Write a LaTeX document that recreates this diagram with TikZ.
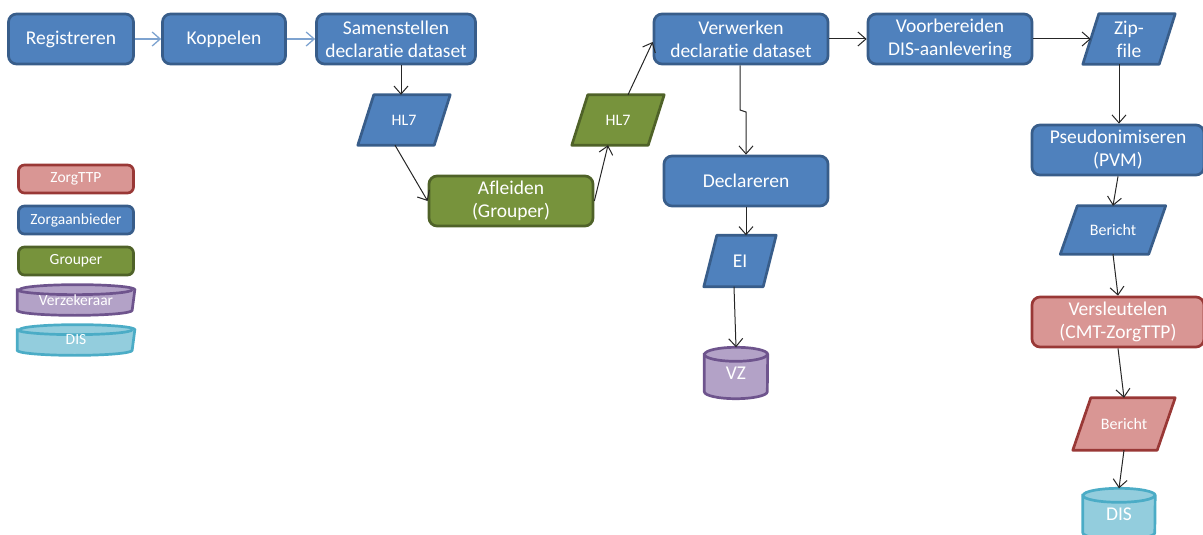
\documentclass[tikz,border=0pt]{standalone}
\usepackage{fontspec}
\setmainfont{Carlito}[Ligatures=NoCommon]
\usetikzlibrary{arrows.meta,calc,backgrounds}

\definecolor{zaFill}{HTML}{4F81BD}
\definecolor{zaLine}{HTML}{385D8A}
\definecolor{grFill}{HTML}{77933C}
\definecolor{grLine}{HTML}{4F6228}
\definecolor{ttpFill}{HTML}{D99694}
\definecolor{ttpLine}{HTML}{993836}
\definecolor{vzFill}{HTML}{B3A2C7}
\definecolor{vzLine}{HTML}{6E548D}
\definecolor{disFill}{HTML}{93CDDD}
\definecolor{disLine}{HTML}{4BACC6}
\definecolor{flowBlue}{HTML}{7EA3D0}

% parallelogram drawn behind a text node: node name, half slant, style
\newcommand\drawpara[3]{%
  \path[#3] ($(#1.south west)+(-#2pt,0)$) -- ($(#1.south east)+(-#2pt,0)$)
    -- ($(#1.north east)+(#2pt,0)$) -- ($(#1.north west)+(#2pt,0)$) -- cycle;}
% cylinder drawn behind a text node: node name, x radius, y radius, style
\newcommand\drawcyl[4]{%
  \path[#4] ($(#1.north west)+(0,-#3pt)$) -- ($(#1.south west)+(0,#3pt)$)
    arc[start angle=180,end angle=360,x radius=#2pt,y radius=#3pt]
    -- ($(#1.north east)+(0,-#3pt)$)
    arc[start angle=0,end angle=180,x radius=#2pt,y radius=#3pt] -- cycle;
  \path[#4,fill=none] ($(#1.north west)+(0,-#3pt)$)
    arc[start angle=180,end angle=360,x radius=#2pt,y radius=#3pt];}

\tikzset{
  proc/.style={rectangle, rounded corners=8pt, draw, line width=2.7pt,
    minimum height=50pt, text=white, align=center, inner sep=2pt,
    font=\fontsize{19.5}{23}\selectfont},
  za/.style={proc, fill=zaFill, draw=zaLine},
  gr/.style={proc, fill=grFill, draw=grLine},
  ttp/.style={proc, fill=ttpFill, draw=ttpLine},
  dataholder/.style={rectangle, inner sep=0pt, text=white, align=center},
  smalltext/.style={font=\fontsize{16}{18}\selectfont},
  bigtext/.style={font=\fontsize{19.5}{23}\selectfont},
  zaShape/.style={fill=zaFill, draw=zaLine, line width=2.7pt, line join=round},
  grShape/.style={fill=grFill, draw=grLine, line width=2.7pt, line join=round},
  ttpShape/.style={fill=ttpFill, draw=ttpLine, line width=2.7pt, line join=round},
  vzShape/.style={fill=vzFill, draw=vzLine, line width=2.7pt},
  disShape/.style={fill=disFill, draw=disLine, line width=2.7pt},
  legend/.style={rectangle, rounded corners=6pt, line width=2.7pt,
    minimum width=115pt, minimum height=28pt, text=white, inner sep=0pt,
    font=\fontsize{15.5}{17}\selectfont},
  arr/.style={draw=black!85, line width=1pt,
    -{Straight Barb[length=8pt,width=14pt,line width=1pt]}},
  lightarr/.style={draw=flowBlue, line width=1.3pt,
    -{Straight Barb[length=8pt,width=14pt,line width=1.3pt]}},
}

\begin{document}
\begin{tikzpicture}[x=1pt,y=1pt]
\clip (0,0) rectangle (1203,-535);

% process steps
\node[za, minimum width=125pt] (reg)  at (71,-39)  {Registreren};
\node[za, minimum width=123pt] (kop)  at (224,-39) {Koppelen};
\node[za, minimum width=159pt] (sam)  at (396,-39) {Samenstellen\\declaratie dataset};
\node[gr, minimum width=164pt] (afl)  at (511,-201) {Afleiden\\(Grouper)};
\node[za, minimum width=174pt] (verw) at (741,-39) {Verwerken\\declaratie dataset};
\node[za, minimum width=164pt] (voor) at (950,-39) {Voorbereiden\\DIS-aanlevering};
\node[za, minimum width=164pt] (decl) at (746,-181) {Declareren};
\node[za, minimum width=172pt] (pseu) at (1118,-150) {Pseudonimiseren\\(PVM)};
\node[ttp, minimum width=172pt] (vers) at (1118,-322) {Versleutelen\\(CMT-ZorgTTP)};

% data items (parallelograms)
\node[dataholder, smalltext, minimum width=76pt, minimum height=50pt] (hla) at (404,-120) {HL7};
\node[dataholder, smalltext, minimum width=76pt, minimum height=50pt] (hlb) at (618,-120) {HL7};
\node[dataholder, bigtext, minimum width=76pt, minimum height=50pt] (zip) at (1129,-39) {Zip-\\file};
\node[dataholder, smalltext, minimum width=88pt, minimum height=48pt] (bera) at (1113,-230) {Bericht};
\node[dataholder, smalltext, minimum width=84pt, minimum height=52pt] (berb) at (1124,-424) {Bericht};
\node[dataholder, bigtext, minimum width=59pt, minimum height=51pt] (ei) at (740,-261) {EI};

% data stores (cylinders)
\node[dataholder, bigtext, minimum width=63pt, minimum height=51pt] (vz) at (736,-373) {\raisebox{-5pt}{VZ}};
\node[dataholder, bigtext, minimum width=72pt, minimum height=51pt] (dis) at (1119,-514) {\raisebox{-5pt}{DIS}};

% legend
\node[legend, fill=ttpFill, draw=ttpLine] (lttp) at (76,-179) {ZorgTTP};
\node[legend, fill=zaFill, draw=zaLine] (lza) at (76,-220) {Zorgaanbieder};
\node[legend, fill=grFill, draw=grLine] (lgr) at (76,-261) {Grouper};
\node[legend] (lvz) at (76,-300) {\raisebox{-3pt}{Verzekeraar}};
\node[legend] (ldis) at (76,-340) {\raisebox{-3pt}{DIS}};

\begin{scope}[on background layer]
  \drawpara{hla}{8}{zaShape}
  \drawpara{hlb}{8}{grShape}
  \drawpara{zip}{8}{zaShape}
  \drawpara{bera}{8.5}{zaShape}
  \drawpara{berb}{9}{ttpShape}
  \drawpara{ei}{6.5}{zaShape}
  \drawcyl{vz}{31.5}{7}{vzShape}
  \drawcyl{dis}{36}{7}{disShape}
  \drawcyl{lvz}{57.5}{5}{vzShape}
  \drawcyl{ldis}{57.5}{5}{disShape}
\end{scope}

% flow
\draw[lightarr] (reg) -- (kop);
\draw[lightarr] (kop) -- (sam);
\draw[arr] ([xshift=5pt]sam.south) -- ([xshift=-3pt]hla.north);
\draw[arr] ([xshift=-9pt]hla.south) -- (afl.west);
\draw[arr] (afl.east) -- ([xshift=-10pt]hlb.south);
\draw[arr] ([xshift=10pt]hlb.north) -- ([yshift=-3pt]verw.west);
\draw[arr] (verw.east) -- (voor.west);
\draw[arr] ([xshift=-1pt]verw.south) -- (740,-110) -- (746,-112) -- (decl.north);
\draw[arr] (decl.south) -- (decl.south |- ei.north);
\draw[arr] ([xshift=-6pt]ei.south) -- (vz.north);
\draw[arr] (voor.east) -- (zip.west);
\draw[arr] ([xshift=-10pt]zip.south) -- ([xshift=1pt]pseu.north);
\draw[arr] (pseu.south) -- (bera.north);
\draw[arr] (bera.south) -- (vers.north);
\draw[arr] (vers.south) -- (berb.north);
\draw[arr] (berb.south) -- (dis.north);
\end{tikzpicture}
\end{document}
